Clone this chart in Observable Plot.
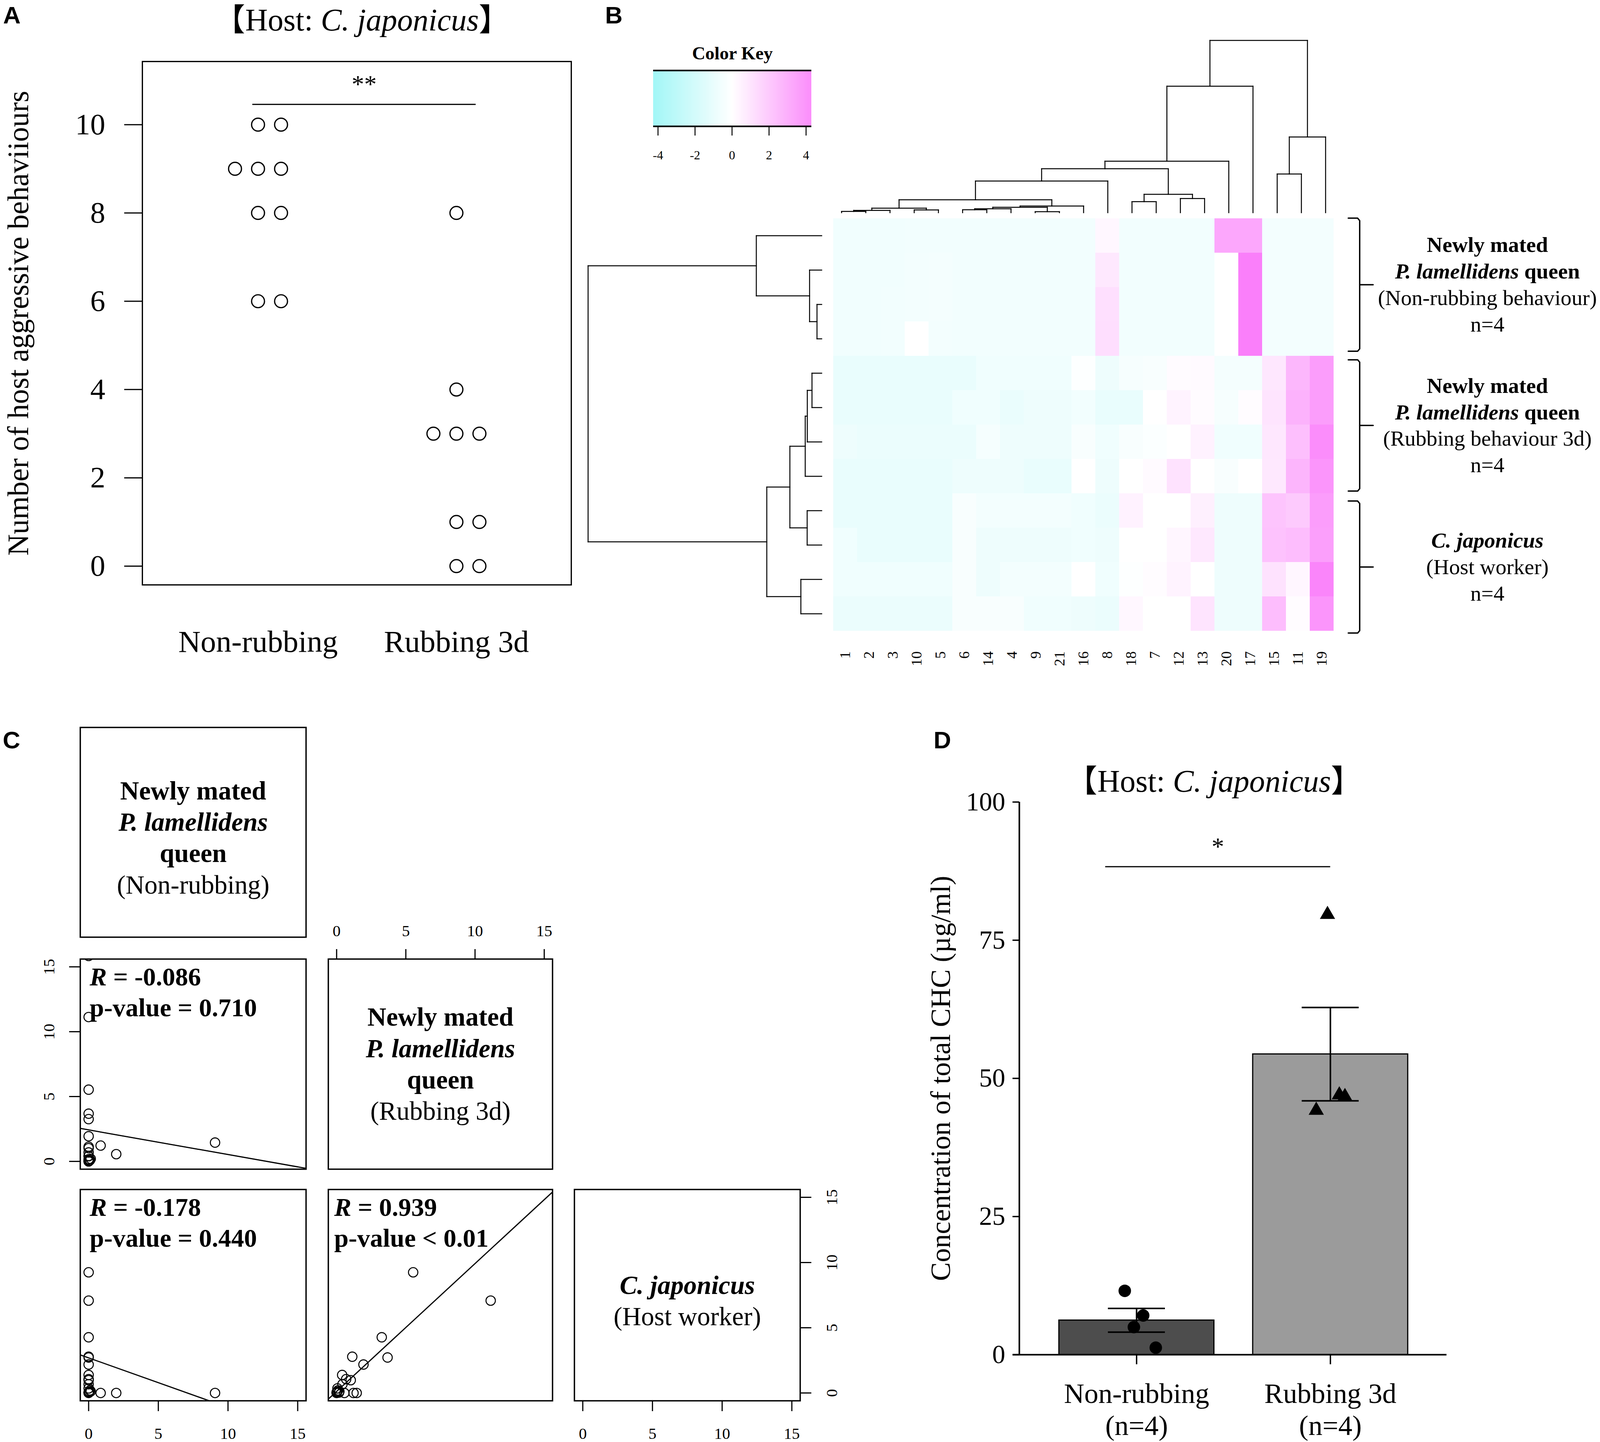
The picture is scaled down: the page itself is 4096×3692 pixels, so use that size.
<!DOCTYPE html>
<html>
<head>
<meta charset="utf-8">
<script src="https://cdn.jsdelivr.net/npm/d3@7"></script>
<script src="https://cdn.jsdelivr.net/npm/@observablehq/plot@0.6"></script>
<style>
  html, body { margin: 0; padding: 0; background: #fff; }
  #fig { position: relative; width: 4096px; height: 3692px; overflow: hidden; background: #fff; }
  .panel-letter { position: absolute; font-family: 'Liberation Sans', Arial, sans-serif; font-weight: bold; font-size: 62px; line-height: 1.2; color: #000; }
</style>
</head>
<body>
<div id="fig"></div>
<script>
// ================= DATA =================
// Panel A
const groupsA = ["Non-rubbing", "Rubbing 3d"];
const nonRubbingA = [10, 10, 9, 9, 9, 8, 8, 6, 6];
const rubbingA = [8, 4, 3, 3, 3, 1, 1, 0, 0];
const ticksA = [0, 2, 4, 6, 8, 10];
const titleA = "【Host: C. japonicus】";
const yLabelA = "Number of host aggressive behaviiours";

// Panel B (heatmap of CHC z-scores; columns in dendrogram order)
const colOrder = ["1","2","3","10","5","6","14","4","9","21","16","8","18","7","12","13","20","17","15","11","19"];
const heatValues = [
  [-0.65,-0.65,-0.65,-0.6,-0.6,-0.6,-0.6,-0.6,-0.6,-0.6,-0.6,0.3,-0.6,-0.6,-0.6,-0.6,3.3,3.3,-0.55,-0.55,-0.55],
  [-0.65,-0.65,-0.65,-0.55,-0.5,-0.6,-0.6,-0.6,-0.6,-0.6,-0.6,0.85,-0.6,-0.6,-0.6,-0.6,0.0,4.8,-0.55,-0.55,-0.55],
  [-0.65,-0.65,-0.6,-0.55,-0.5,-0.6,-0.6,-0.6,-0.6,-0.6,-0.6,1.2,-0.6,-0.6,-0.6,-0.6,0.0,4.8,-0.55,-0.55,-0.55],
  [-0.65,-0.65,-0.6,0.0,-0.55,-0.6,-0.6,-0.6,-0.6,-0.6,-0.6,1.25,-0.6,-0.6,-0.6,-0.6,0.0,4.8,-0.55,-0.55,-0.55],
  [-1.0,-1.0,-1.0,-1.0,-1.0,-1.0,-0.7,-0.7,-0.7,-0.7,-0.1,-0.8,-0.4,-0.3,0.15,0.2,-0.5,-0.5,0.9,2.7,3.7],
  [-1.0,-1.0,-1.0,-1.0,-1.0,-0.7,-0.7,-0.95,-0.8,-0.8,-0.6,-1.0,-1.0,0.0,0.45,0.15,-0.4,0.1,1.0,2.9,3.7],
  [-0.8,-0.9,-0.9,-0.9,-0.9,-0.9,-0.45,-0.8,-0.8,-0.8,-0.3,-0.7,-0.3,-0.2,0.0,0.5,-0.7,-0.7,0.9,2.4,4.3],
  [-1.0,-1.0,-1.0,-1.0,-1.0,-0.8,-0.8,-0.8,-1.0,-1.0,0.0,-0.8,0.0,0.2,1.1,0.0,-0.3,0.0,0.85,2.8,4.0],
  [-1.0,-1.0,-1.0,-1.0,-1.0,-0.3,-0.55,-0.55,-0.55,-0.55,-0.7,-0.9,0.5,0.0,0.0,0.55,-0.8,-0.8,2.2,2.0,3.7],
  [-0.7,-1.0,-1.0,-1.0,-1.0,-0.3,-0.8,-0.8,-0.8,-0.8,-0.7,-0.8,0.0,0.0,0.35,0.85,-0.8,-0.8,2.3,2.5,3.6],
  [-0.7,-0.7,-0.7,-0.7,-0.7,-0.3,-0.8,-0.55,-0.55,-0.55,0.0,-0.7,-0.1,0.1,0.45,0.0,-0.8,-0.8,1.1,0.35,4.6],
  [-0.9,-0.9,-0.9,-0.9,-0.9,-0.3,-0.3,-0.3,-0.7,-0.7,-0.8,-0.9,0.3,0.0,0.0,1.0,-0.8,-0.8,2.5,0.1,4.0]
];
const keyTicks = [-4, -2, 0, 2, 4];
// dendrograms: [left, right, height]; negative = leaf (1-based display position), positive = earlier merge (1-based)
const colMerges = [
  [-1,-2,0.10],[1,-3,0.18],[-4,-5,0.22],[2,3,0.36],
  [-6,-7,0.23],[5,-8,0.31],[-9,-10,0.08],[6,7,0.43],[8,-11,0.53],
  [4,9,1.03],[10,-12,2.52],[-13,-14,0.88],[-15,-16,1.13],[12,13,1.46],
  [11,14,3.50],[15,-17,4.10],[16,-18,10.08],[-19,-20,3.08],[18,-21,6.03],[17,19,13.73]
];
const rowMerges = [
  [-3,-4,0.29],[-2,1,0.75],[-1,2,4.05],
  [-5,-6,0.60],[4,-7,0.89],[5,-8,1.02],[-9,-10,0.90],[6,7,1.97],
  [-11,-12,1.29],[8,9,3.40],[3,10,14.47]
];
const groupLabelsB = [
  "Newly mated\nP. lamellidens queen\n(Non-rubbing behaviour)\nn=4",
  "Newly mated\nP. lamellidens queen\n(Rubbing behaviour 3d)\nn=4",
  "C. japonicus\n(Host worker)\nn=4"
];

// Panel C (21 CHC compounds; relative amounts)
const nonRubbingC = [0,0,0,0,0,0,0,0,0,0,0,0,0,1.98,0.86,9.07,0.05,0.10,0,0.15,0];
const rubbingC    = [5.53,11.13,3.26,1.13,3.68,1.94,0.40,0.69,1.02,0.42,0.06,0,0.17,0.56,1.22,1.45,0.05,0.10,0,0.20,15.84];
const hostC       = [9.25,7.08,4.27,2.78,2.72,2.18,1.38,1.06,0.98,0.67,0.35,0.06,0.03,0,0,0,0.10,0.20,0,0.12,16.5];
const ticksC = [0, 5, 10, 15];
const fitIntercept = [2.43, 2.69, 0.12];
const fitSlope = [-0.19, -0.38, 0.98];
const statsC = ["R = -0.086\np-value = 0.710", "R = -0.178\np-value = 0.440", "R = 0.939\np-value < 0.01"];
const diagLabelsC = [
  "Newly mated\nP. lamellidens\nqueen\n(Non-rubbing)",
  "Newly mated\nP. lamellidens\nqueen\n(Rubbing 3d)",
  "C. japonicus\n(Host worker)"
];

// Panel D
const groupsD = ["Non-rubbing", "Rubbing 3d"];
const nD = ["(n=4)", "(n=4)"];
const nonRubbingD = [11.56, 7.1, 5.0, 1.27];
const rubbingD = [79.65, 44.2, 47.0, 46.7];
const jitterD = [[-0.061, 0.034, -0.014, 0.099], [-0.015, -0.073, 0.046, 0.075]];
const ticksD = [0, 25, 50, 75, 100];
const titleD = "【Host: C. japonicus】";
const yLabelD = "Concentration of total CHC (µg/ml)";

// annotations
const sigA = {x1: 0.972, x2: 2.098, y: 10.46, label: "**"};
const sigD = {x1: 0.839, x2: 2.0, y: 88.3, label: "*"};

// ================= HELPERS =================
const SERIF = "'Liberation Serif', 'Noto Sans CJK JP', serif";
const fig = document.getElementById("fig");
const RICH = {
  "【Host: C. japonicus】": [["【Host: ", ""], ["C. japonicus", "i"], ["】", ""]],
  "Newly mated": [["Newly mated", "b"]],
  "P. lamellidens queen": [["P. lamellidens", "bi"], [" queen", "b"]],
  "P. lamellidens": [["P. lamellidens", "bi"]],
  "queen": [["queen", "b"]],
  "C. japonicus": [["C. japonicus", "bi"]],
  "R = -0.086": [["R", "bi"], [" = -0.086", "b"]],
  "R = -0.178": [["R", "bi"], [" = -0.178", "b"]],
  "R = 0.939": [["R", "bi"], [" = 0.939", "b"]],
  "p-value = 0.710": [["p-value = 0.710", "b"]],
  "p-value = 0.440": [["p-value = 0.440", "b"]],
  "p-value < 0.01": [["p-value < 0.01", "b"]]
};
function enrich(svg) {
  svg.querySelectorAll("text, tspan").forEach(el => {
    if (el.children.length) return;
    const segs = RICH[el.textContent];
    if (!segs) return;
    el.textContent = "";
    for (const [t, s] of segs) {
      const ts = document.createElementNS("http://www.w3.org/2000/svg", "tspan");
      ts.textContent = t;
      ts.setAttribute("font-style", s.includes("i") ? "italic" : "normal");
      ts.setAttribute("font-weight", s.includes("b") ? "bold" : "normal");
      el.appendChild(ts);
    }
  });
}
function place(options, box, m, fontSize) {
  const width = Math.round(box.x1 - box.x0 + m.l + m.r);
  const height = Math.round(box.y1 - box.y0 + m.t + m.b);
  const svg = Plot.plot({
    ...options,
    width, height,
    marginLeft: m.l, marginRight: m.r, marginTop: m.t, marginBottom: m.b,
    style: {fontFamily: SERIF, fontSize: fontSize + "px", background: "transparent", overflow: "visible", color: "black"}
  });
  svg.style.position = "absolute";
  svg.style.left = (box.x0 - m.l) + "px";
  svg.style.top = (box.y0 - m.t) + "px";
  svg.style.maxWidth = "none";
  enrich(svg);
  fig.appendChild(svg);
  return svg;
}
function letter(t, x, y) {
  const d = document.createElement("div");
  d.className = "panel-letter";
  d.textContent = t;
  d.style.left = x + "px";
  d.style.top = y + "px";
  fig.appendChild(d);
}
function dendroSegments(merges) {
  const pos = [], ht = [];
  const P = id => id < 0 ? -id - 1 : pos[id - 1];
  const H = id => id < 0 ? 0 : ht[id - 1];
  const segs = [];
  merges.forEach(([a, b, h], i) => {
    const pa = P(a), pb = P(b);
    segs.push({p1: pa, h1: h, p2: pb, h2: h});
    segs.push({p1: pa, h1: H(a), p2: pa, h2: h});
    segs.push({p1: pb, h1: H(b), p2: pb, h2: h});
    pos[i] = (pa + pb) / 2; ht[i] = h;
  });
  return segs;
}

// ================= PANEL A =================
const ptsA = [];
[nonRubbingA, rubbingA].forEach((vals, gi) => {
  const counts = d3.rollup(vals, v => v.length, d => d);
  const seen = new Map();
  vals.forEach(v => {
    const n = counts.get(v), k = seen.get(v) || 0;
    seen.set(v, k + 1);
    ptsA.push({g: gi + 1, v, k: k - Math.floor((n - 1) / 2)});
  });
});
place({
  x: {domain: [0.417, 2.579]},
  y: {domain: [-0.425, 11.43]},
  marks: [
    Plot.frame({stroke: "black", strokeWidth: 3.2}),
    Plot.axisY({ticks: ticksA, tickSize: 46, tickPadding: 49, strokeWidth: 3, fontSize: 77, label: null}),
    Plot.axisX({ticks: [1, 2], tickFormat: d => groupsA[d - 1], tickSize: 0, tickPadding: 115, fontSize: 79, label: null}),
    Plot.dot(ptsA, {x: d => d.g + d.k * 0.116, y: "v", r: 16.5, stroke: "black", strokeWidth: 3.2, fill: "none"}),
    Plot.ruleY([sigA], {y: "y", x1: "x1", x2: "x2", strokeWidth: 3}),
    Plot.text([sigA], {x: d => (d.x1 + d.x2) / 2, y: d => d.y + 0.45, text: "label", fontSize: 64}),
    Plot.text([titleA], {x: 1.524, frameAnchor: "top", lineAnchor: "middle", dy: -105.6, text: d => d, fontSize: 80}),
    Plot.text([yLabelA], {frameAnchor: "left", textAnchor: "middle", lineAnchor: "middle", rotate: -90, dx: -317, text: d => d, fontSize: 76})
  ]
}, {x0: 364, x1: 1462, y0: 157, y1: 1497}, {l: 364, r: 60, t: 157, b: 240}, 77);

// ================= PANEL B =================
const heatColor = {type: "linear", domain: [-5, 0, 5], range: ["#92f5f5", "#ffffff", "#fa7afa"]};
const cells = heatValues.flatMap((row, r) => row.map((v, c) => ({row: r, col: colOrder[c], v})));

// heatmap cells + column labels
place({
  x: {type: "band", domain: colOrder, padding: 0},
  y: {type: "band", domain: d3.range(heatValues.length), padding: 0, axis: null},
  color: heatColor,
  marks: [
    Plot.cell(cells, {x: "col", y: "row", fill: "v", shapeRendering: "crispEdges"}),
    Plot.axisX({tickRotate: -90, tickSize: 0, tickPadding: 52, fontSize: 38, label: null})
  ]
}, {x0: 2123, x1: 3424, y0: 559, y1: 1615}, {l: 2, r: 2, t: 2, b: 140}, 38);

// column dendrogram
place({
  x: {domain: [-0.5, colOrder.length - 0.5], axis: null},
  y: {domain: [0, d3.max(colMerges, d => d[2])], axis: null},
  marks: [Plot.link(dendroSegments(colMerges), {x1: "p1", y1: "h1", x2: "p2", y2: "h2", strokeWidth: 2.5, strokeLinecap: "square"})]
}, {x0: 2123, x1: 3424, y0: 102.6, y1: 544}, {l: 4, r: 4, t: 4, b: 4}, 30);

// row dendrogram
place({
  x: {domain: [0, d3.max(rowMerges, d => d[2])], reverse: true, axis: null},
  y: {domain: [-0.5, heatValues.length - 0.5], reverse: true, axis: null},
  marks: [Plot.link(dendroSegments(rowMerges), {x1: "h1", y1: "p1", x2: "h2", y2: "p2", strokeWidth: 2.5, strokeLinecap: "square"})]
}, {x0: 1505, x1: 2103, y0: 559, y1: 1615}, {l: 4, r: 4, t: 4, b: 4}, 30);

// color key
const keyDomain = [-4.253, 4.295];
const rampKey = d3.range(keyDomain[0], keyDomain[1], 0.02);
place({
  x: {domain: keyDomain},
  y: {domain: [0, 1], axis: null},
  color: heatColor,
  marks: [
    Plot.rect(rampKey, {x1: d => d, x2: d => Math.min(d + 0.021, keyDomain[1]), y1: 0, y2: 1, fill: d => d, shapeRendering: "crispEdges"}),
    Plot.ruleY([0, 1], {strokeWidth: 4}),
    Plot.axisX({ticks: keyTicks, tickFormat: d => String(d), tickSize: 24, tickPadding: 38, strokeWidth: 2.5, fontSize: 32, label: null}),
    Plot.text(["Color Key"], {text: d => d, frameAnchor: "top", lineAnchor: "middle", dy: -44, fontWeight: "bold", fontSize: 47})
  ]
}, {x0: 1672, x1: 2077, y0: 180, y1: 323}, {l: 30, r: 30, t: 90, b: 110}, 32);

// group braces + labels
const braceSpans = [[-0.51, 3.36], [3.61, 7.43], [7.72, 11.56]];
const braceX = {hook: 0.017, stem: 0.062, tip: 0.115, label: 0.565};
const braceLines = braceSpans.flatMap(([t, b], k) => {
  const m = (t + b) / 2, cx = 0.008, cy = 0.07;
  return [
    ...[[braceX.hook, t], [braceX.stem - cx, t], [braceX.stem, t + cy], [braceX.stem, b - cy], [braceX.stem - cx, b], [braceX.hook, b]]
      .map(([x, y]) => ({x, y, z: k + "a"})),
    ...[[braceX.stem, m], [braceX.tip, m]].map(([x, y]) => ({x, y, z: k + "b"}))
  ];
});
place({
  x: {domain: [0, 1], axis: null},
  y: {domain: [-0.5, heatValues.length - 0.5], reverse: true, axis: null},
  marks: [
    Plot.line(braceLines, {x: "x", y: "y", z: "z", strokeWidth: 3.5}),
    Plot.text(groupLabelsB, {x: braceX.label, y: (d, i) => (braceSpans[i][0] + braceSpans[i][1]) / 2 - 0.04, text: d => d, lineHeight: 1.22, fontSize: 55.6})
  ]
}, {x0: 3440, x1: 4090, y0: 559, y1: 1615}, {l: 0, r: 0, t: 0, b: 0}, 55.6);

// ================= PANEL C =================
const colX = [[205, 783], [840, 1414], [1470, 2048]];
const rowY = [[1862, 2399], [2455, 2993], [3045, 3586]];
const boxC = (r, c) => ({x0: colX[c][0], x1: colX[c][1], y0: rowY[r][0], y1: rowY[r][1]});
const mC = {l: 130, r: 130, t: 110, b: 110};
const domC = [-0.6, 15.6];
const varsC = [nonRubbingC, rubbingC, hostC];
const axisOpts = {ticks: ticksC, strokeWidth: 3, fontSize: 41, label: null};

// diagonal panels
const diagDy = [10.5, -3.5, 11];
diagLabelsC.forEach((lab, i) => {
  const marks = [
    Plot.frame({strokeWidth: 3.5}),
    Plot.text([lab], {text: d => d, frameAnchor: "middle", lineAnchor: "middle", dy: diagDy[i], lineHeight: 1.2, fontSize: 67})
  ];
  let xOpt = {domain: domC, axis: null}, yOpt = {domain: domC, axis: null};
  if (i === 1) {
    marks.push(Plot.axisX({...axisOpts, anchor: "top", tickSize: 26, tickPadding: 33}));
    xOpt = {domain: domC};
  }
  if (i === 2) {
    marks.push(Plot.axisX({...axisOpts, anchor: "bottom", tickSize: 27, tickPadding: 41}));
    marks.push(Plot.axisY({...axisOpts, anchor: "right", tickSize: 28, tickRotate: -90, tickPadding: 66}));
    xOpt = {domain: domC}; yOpt = {domain: domC};
  }
  place({x: xOpt, y: yOpt, marks}, boxC(i, i), mC, 41);
});

// scatter panels
const scatterDefs = [
  {r: 1, c: 0, xv: 0, yv: 1, k: 0, dx: 24, axis: "left"},
  {r: 2, c: 0, xv: 0, yv: 2, k: 1, dx: 24, axis: "bottom"},
  {r: 2, c: 1, xv: 1, yv: 2, k: 2, dx: 15, axis: null}
];
scatterDefs.forEach(def => {
  const X = varsC[def.xv], Y = varsC[def.yv];
  const pts = X.map((x, i) => ({x, y: Y[i]}));
  const a = fitIntercept[def.k], b = fitSlope[def.k];
  const fit = domC.map(x => ({x, y: a + b * x}));
  const marks = [
    Plot.frame({strokeWidth: 3.5}),
    Plot.line(fit, {x: "x", y: "y", strokeWidth: 3, clip: true}),
    Plot.dot(pts, {x: "x", y: "y", r: 12, stroke: "black", strokeWidth: 2.6, fill: "none", clip: true}),
    Plot.text([statsC[def.k]], {text: d => d, frameAnchor: "top-left", textAnchor: "start", lineAnchor: "top", lineHeight: 1.2, dx: def.dx, dy: 11.5, fontSize: 66})
  ];
  let xOpt = {domain: domC, axis: null}, yOpt = {domain: domC, axis: null};
  if (def.axis === "left") {
    marks.push(Plot.axisY({...axisOpts, anchor: "left", tickSize: 28, tickRotate: -90, tickPadding: 39}));
    yOpt = {domain: domC};
  }
  if (def.axis === "bottom") {
    marks.push(Plot.axisX({...axisOpts, anchor: "bottom", tickSize: 27, tickPadding: 41}));
    xOpt = {domain: domC};
  }
  place({x: xOpt, y: yOpt, marks}, boxC(def.r, def.c), mC, 41);
});

// ================= PANEL D =================
const valsD = [nonRubbingD, rubbingD];
const barsD = valsD.map((v, i) => ({g: i + 1, mean: d3.mean(v), sem: d3.deviation(v) / Math.sqrt(v.length)}));
const ptsD = valsD.flatMap((v, i) => v.map((y, j) => ({g: i + 1, x: i + 1 + jitterD[i][j], y})));
const barFills = ["#4d4d4d", "#9b9b9b"];
const xDomD = [0.395, 2.6];
const halfBar = 0.4, halfCap = 0.147;
place({
  x: {domain: xDomD},
  y: {domain: [0, 100]},
  marks: [
    ...barsD.map((d, i) => Plot.rect([d], {x1: d => d.g - halfBar, x2: d => d.g + halfBar, y1: 0, y2: "mean", fill: barFills[i], stroke: "black", strokeWidth: 3})),
    Plot.ruleX(barsD, {x: "g", y1: d => d.mean - d.sem, y2: d => d.mean + d.sem, strokeWidth: 4}),
    Plot.ruleY(barsD, {y: d => d.mean + d.sem, x1: d => d.g - halfCap, x2: d => d.g + halfCap, strokeWidth: 4}),
    Plot.ruleY(barsD, {y: d => d.mean - d.sem, x1: d => d.g - halfCap, x2: d => d.g + halfCap, strokeWidth: 4}),
    Plot.dot(ptsD.filter(d => d.g === 1), {x: "x", y: "y", r: 16, fill: "black", symbol: "circle"}),
    Plot.dot(ptsD.filter(d => d.g === 2), {x: "x", y: "y", r: 14.5, fill: "black", symbol: "triangle"}),
    Plot.ruleX([xDomD[0]], {y1: 0, y2: 100, strokeWidth: 4}),
    Plot.ruleY([0], {x1: 0.361, x2: xDomD[1], strokeWidth: 4}),
    Plot.axisY({ticks: ticksD, tickSize: 17, tickPadding: 19, strokeWidth: 3.5, fontSize: 67, label: null}),
    Plot.axisX({ticks: [1, 2], tickFormat: d => groupsD[d - 1] + "\n" + nD[d - 1], tickSize: 25, tickPadding: 40, lineHeight: 1.14, strokeWidth: 3.5, fontSize: 72, label: null}),
    Plot.ruleY([sigD], {y: "y", x1: "x1", x2: "x2", strokeWidth: 3}),
    Plot.text([sigD], {x: d => (d.x1 + d.x2) / 2, y: d => d.y + 3.6, text: "label", fontSize: 64}),
    Plot.text([titleD], {x: 1.40, frameAnchor: "top", lineAnchor: "middle", dy: -52, text: d => d, fontSize: 80}),
    Plot.text([yLabelD], {frameAnchor: "left", textAnchor: "middle", lineAnchor: "middle", rotate: -90, dx: -201, text: d => d, fontSize: 72})
  ]
}, {x0: 2609, x1: 3703, y0: 2052.5, y1: 3467}, {l: 230, r: 60, t: 120, b: 230}, 67);

// panel letters
letter("A", 8, 2);
letter("B", 1549, 2);
letter("C", 7, 1858);
letter("D", 2390, 1858);
</script>
</body>
</html>
